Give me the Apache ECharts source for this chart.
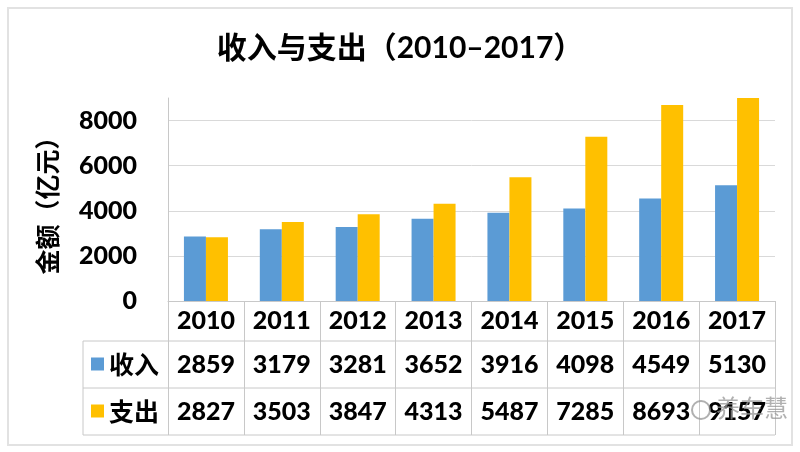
<!DOCTYPE html>
<html><head><meta charset="utf-8">
<script src="https://cdn.jsdelivr.net/npm/echarts@6/dist/echarts.min.js"></script>
<style>html,body{margin:0;padding:0;background:#fff}#c{width:800px;height:452px}</style>
</head><body><div id="c"></div>
<script>
const titleText = '收入与支出（2010–2017）';
const yAxisName = '金额（亿元）';
const categories = ['2010','2011','2012','2013','2014','2015','2016','2017'];
const seriesNames = ['收入','支出'];
const income = [2859,3179,3281,3652,3916,4098,4549,5130];
const expense = [2827,3503,3847,4313,5487,7285,8693,9157];
const yMin = 0, yMax = 9000, yInterval = 2000;

const FONT = "Lato, 'Noto Sans CJK SC', sans-serif";
const LINE = '#c8c8c8';
const chart = echarts.init(document.getElementById('c'));
chart.setOption({
  backgroundColor: '#fff',
  animation: false,
  title: {
    text: titleText, left: 'center', top: 28,
    textStyle: {fontFamily: FONT, fontSize: 30, fontWeight: 'bold', color: '#000'}
  },
  legend: {
    orient: 'vertical', left: 91, top: 351, padding: 0,
    icon: 'rect', itemWidth: 13, itemHeight: 13, itemGap: 21, itemTextGap: 8,
    textStyle: {fontFamily: "'Noto Sans CJK SC', sans-serif", fontSize: 25, fontWeight: 'bold', color: '#000', lineHeight: 26},
    data: seriesNames
  },
  grid: {left: 168, right: 25, top: 98, bottom: 151},
  xAxis: {
    type: 'category', data: categories,
    axisLine: {show: true, lineStyle: {color: LINE, width: 1}},
    axisTick: {show: true, length: 134, alignWithLabel: false, lineStyle: {color: LINE, width: 1}},
    axisLabel: {
      margin: 0, interval: 0,
      formatter: function (v, i) {
        return '{y|' + v + '}\n{v|' + income[i] + '}\n{v|' + expense[i] + '}';
      },
      rich: {
        y: {fontFamily: FONT, fontSize: 25, fontWeight: 900, color: '#000', lineHeight: 40, height: 40},
        v: {fontFamily: FONT, fontSize: 25, fontWeight: 900, color: '#000', lineHeight: 47, height: 47}
      }
    }
  },
  yAxis: {
    type: 'value', min: yMin, max: yMax, interval: yInterval,
    name: yAxisName, nameLocation: 'middle', nameGap: 108, nameRotate: 90,
    nameTextStyle: {fontFamily: "'Noto Sans CJK SC', sans-serif", fontSize: 25, fontWeight: 'bold', color: '#000'},
    axisLine: {show: true, lineStyle: {color: LINE, width: 1}},
    axisTick: {show: false},
    axisLabel: {margin: 31, showMaxLabel: false, formatter: function (v) { return String(v); },
      fontFamily: FONT, fontSize: 25, fontWeight: 900, color: '#000'},
    splitLine: {show: true, showMaxLine: false, lineStyle: {color: '#d9d9d9', width: 1}}
  },
  series: [
    {name: seriesNames[0], type: 'bar', data: income, barGap: '0%', barCategoryGap: '42%', itemStyle: {color: '#5B9BD5'}},
    {name: seriesNames[1], type: 'bar', data: expense, barGap: '0%', barCategoryGap: '42%', itemStyle: {color: '#FFC000'}}
  ],
  graphic: [
    {type: 'rect', shape: {x: 8, y: 8, width: 784, height: 437}, style: {fill: 'none', stroke: '#e2e2e2', lineWidth: 2}, z: 0},
    {type: 'line', shape: {x1: 83, y1: 341, x2: 775, y2: 341}, style: {stroke: LINE, lineWidth: 1}},
    {type: 'line', shape: {x1: 83, y1: 388, x2: 775, y2: 388}, style: {stroke: LINE, lineWidth: 1}},
    {type: 'line', shape: {x1: 83, y1: 435, x2: 775, y2: 435}, style: {stroke: LINE, lineWidth: 1}},
    {type: 'line', shape: {x1: 83, y1: 341, x2: 83, y2: 435}, style: {stroke: LINE, lineWidth: 1}},
    {type: 'text', left: 716, top: 396, z: 100, style: {text: '养车慧', fontFamily: "'Noto Sans CJK SC', sans-serif", fontSize: 24, fill: 'rgba(150,150,150,0.75)'}},
    {type: 'circle', shape: {cx: 701, cy: 410, r: 9}, z: 100, style: {fill: 'none', stroke: 'rgba(150,150,150,0.75)', lineWidth: 2}}
  ]
});
</script></body></html>
